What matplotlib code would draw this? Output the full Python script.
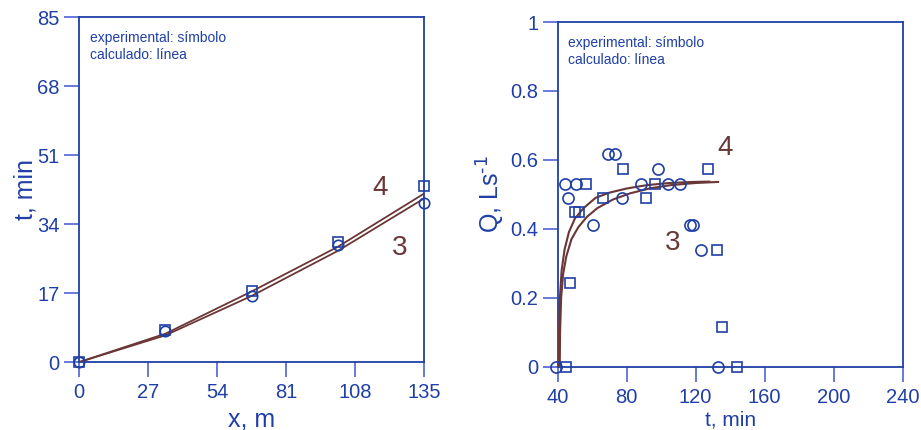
import matplotlib
matplotlib.use("Agg")
import matplotlib.pyplot as plt

plt.rcParams['font.family'] = ['Liberation Sans', 'DejaVu Sans']

BLUE = '#1f3fa6'
TICKC = '#4d63d6'
BROWN = '#6b3636'

# --- advance: distance vs time ---
x_pos = [0, 33.75, 67.5, 101.25, 135]
t_exp4 = [0, 7.8, 17.6, 29.6, 43.3]
t_exp3 = [0, 7.6, 16.3, 28.9, 39.2]
t_calc4 = [0, 7.0, 17.4, 28.4, 41.5]
t_calc3 = [0, 6.6, 16.3, 27.4, 40.3]

# --- outflow hydrograph ---
q_t3 = [39.0, 44.3, 46.2, 50.4, 60.3, 69.0, 73.0, 77.3, 88.1, 98.2, 104.2,
        110.9, 116.7, 118.6, 122.9, 132.8]
q_exp3 = [0, 0.530, 0.488, 0.530, 0.41, 0.618, 0.618, 0.488, 0.530, 0.573,
          0.530, 0.530, 0.41, 0.41, 0.339, 0]
q_t4 = [44.6, 47.1, 50.0, 52.6, 56.2, 66.1, 78.1, 91.2, 96.4, 127.1, 132.2,
        135.1, 144.2]
q_exp4 = [0, 0.242, 0.448, 0.448, 0.530, 0.488, 0.573, 0.488, 0.530, 0.573,
          0.339, 0.114, 0]

qc_t4 = [40.6, 40.8, 41.3, 42.3, 44, 46.5, 50, 55, 62, 70, 80, 92, 105, 118, 128]
qc_4 = [0, 0.10, 0.20, 0.28, 0.34, 0.39, 0.43, 0.46, 0.49, 0.505, 0.517,
        0.527, 0.533, 0.536, 0.537]
qc_t3 = [41.2, 41.4, 42, 43.2, 45, 48, 52, 57, 63, 72, 82, 94, 106, 120, 133]
qc_3 = [0, 0.10, 0.20, 0.27, 0.32, 0.37, 0.405, 0.435, 0.46, 0.485, 0.503,
        0.518, 0.527, 0.533, 0.536]

fig = plt.figure(figsize=(9.21, 4.30), dpi=100)
ax1 = fig.add_axes([0.0861, 0.158, 0.3743, 0.8023])
ax2 = fig.add_axes([0.6055, 0.1472, 0.3746, 0.8016])

mk = dict(linestyle='none', markerfacecolor='none', markeredgecolor=BLUE,
          markeredgewidth=1.2, clip_on=False, zorder=4)


def style(ax):
    for s in ax.spines.values():
        s.set_color(BLUE)
        s.set_linewidth(1.3)
    ax.tick_params(direction='out', length=11, width=1.2, color=TICKC,
                   labelcolor=BLUE, labelsize=14.5)
    ax.tick_params(axis='y', pad=3)
    ax.tick_params(axis='x', pad=4)
    ax.text(0.03, 0.915, 'experimental: símbolo\ncalculado: línea',
            transform=ax.transAxes, color=BLUE, fontsize=10,
            va='center', ha='left', linespacing=1.25)


# left panel
ax1.plot(x_pos, t_calc4, color=BROWN, lw=1.3, zorder=3)
ax1.plot(x_pos, t_calc3, color=BROWN, lw=1.3, zorder=3)
ax1.plot(x_pos, t_exp3, marker='o', markersize=7.5, **mk)
ax1.plot(x_pos, t_exp4, marker='s', markersize=7.5, **mk)
ax1.set_xlim(0, 135)
ax1.set_ylim(0, 85)
ax1.set_xticks([0, 27, 54, 81, 108, 135])
ax1.set_yticks([0, 17, 34, 51, 68, 85])
style(ax1)
ax1.set_xlabel('x, m', color=BLUE, fontsize=18, labelpad=4)
ax1.set_ylabel('t, min', color=BLUE, fontsize=18, labelpad=0)
ax1.text(117.8, 42.9, '4', color=BROWN, fontsize=20, ha='center', va='center')
ax1.text(125.6, 28.1, '3', color=BROWN, fontsize=20, ha='center', va='center')

# right panel
ax2.plot(qc_t4, qc_4, color=BROWN, lw=1.5, zorder=3)
ax2.plot(qc_t3, qc_3, color=BROWN, lw=1.5, zorder=3)
ax2.plot(q_t3, q_exp3, marker='o', markersize=8, **mk)
ax2.plot(q_t4, q_exp4, marker='s', markersize=7.5, **mk)
ax2.set_xlim(40, 240)
ax2.set_ylim(0, 1)
ax2.set_xticks([40, 80, 120, 160, 200, 240])
ax2.set_yticks([0, 0.2, 0.4, 0.6, 0.8, 1])
ax2.set_yticklabels(['0', '0.2', '0.4', '0.6', '0.8', '1'])
style(ax2)
ax2.set_xlabel('t, min', color=BLUE, fontsize=15, labelpad=3)
ax2.set_ylabel('Q, Ls$^{\\text{-1}}$', color=BLUE, fontsize=18, labelpad=2)
ax2.text(137, 0.635, '4', color=BROWN, fontsize=20, ha='center', va='center')
ax2.text(106.8, 0.359, '3', color=BROWN, fontsize=20, ha='center', va='center')

fig.savefig('out.png', dpi=100)
